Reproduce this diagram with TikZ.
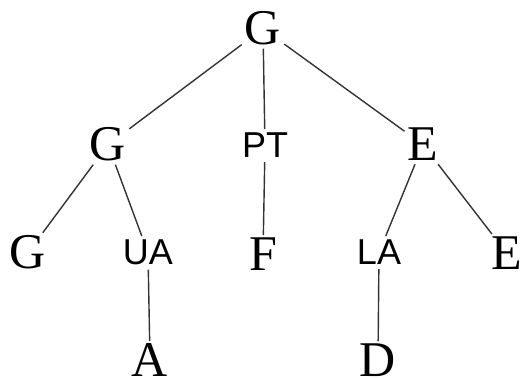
\documentclass[tikz,border=0pt]{standalone}
\usepackage{fontspec}
\setmainfont{Liberation Serif}
\setsansfont{Liberation Sans}
\begin{document}
\begin{tikzpicture}[x=1pt,y=-1pt,
  ser/.style={anchor=base,inner sep=3pt,font=\fontsize{50}{60}\selectfont},
  san/.style={anchor=base,inner sep=4pt,font=\sffamily\fontsize{36}{43}\selectfont},
  br/.style={draw=black!80,line width=1.4pt}]
\useasboundingbox (0,0) rectangle (525,379);
\node[ser] (r) at (263,45) {G};
\node[ser] (g2) at (108,161) {G};
\node[san] (pt) at (265,158) {PT};
\node[ser] (e2) at (423,161) {E};
\node[ser] (g3) at (28,269) {G};
\node[san] (ua) at (148,265) {UA};
\node[ser] (f) at (263,271) {F};
\node[san] (la) at (379,265) {LA};
\node[ser] (e3) at (507,270) {E};
\node[ser] (a) at (150,377) {A};
\node[ser] (d) at (378,377) {D};
\draw[br] (r) -- (g2);
\draw[br] (r) -- (pt);
\draw[br] (r) -- (e2);
\draw[br] (g2) -- (g3);
\draw[br] (g2) -- (ua);
\draw[br] (pt) -- (f);
\draw[br] (e2) -- (la);
\draw[br] (e2) -- (e3);
\draw[br] (ua) -- (a);
\draw[br] (la) -- (d);
\end{tikzpicture}
\end{document}
